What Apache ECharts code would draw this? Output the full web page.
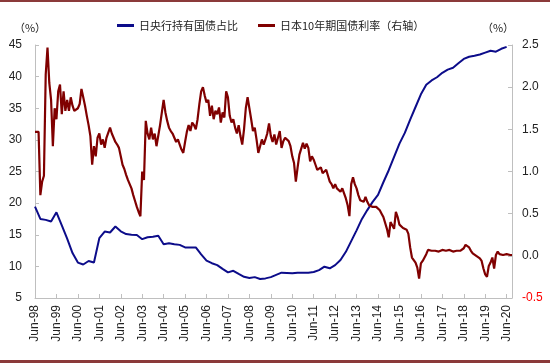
<!DOCTYPE html>
<html>
<head>
<meta charset="utf-8">
<script src="https://cdn.jsdelivr.net/npm/echarts@6/dist/echarts.min.js"></script>
<style>html,body{margin:0;padding:0;background:#fff;}#c{width:550px;height:363px;}</style>
</head>
<body>
<div id="c"></div>
<script>
// Monthly category axis: Jun-98 ... Sep-20
const monthNames = ["Jan","Feb","Mar","Apr","May","Jun","Jul","Aug","Sep","Oct","Nov","Dec"];
const startYear = 1998, startMonth = 5, monthCount = 268;

// BOJ share of JGB holdings (%), quarterly Jun-98 ... Jun-20 (left axis)
const bojShareQuarterly = [
  19.45, 17.5, 17.35, 17.1, 18.55, 16.5, 14.4, 12.1, 10.6, 10.3, 10.85, 10.6,
  14.45, 15.5, 15.35, 16.3, 15.55, 15.1, 15.0, 14.95, 14.3, 14.6, 14.7, 14.85,
  13.5, 13.65, 13.5, 13.4, 13.0, 13.0, 13.0, 11.9, 10.9, 10.5, 10.2, 9.6,
  9.05, 9.3, 8.8, 8.35, 8.15, 8.3, 8.0, 8.1, 8.3, 8.65, 9.0, 8.95,
  8.9, 9.0, 9.0, 9.0, 9.1, 9.4, 9.95, 9.7, 10.2, 11.0, 12.3, 14.0,
  15.7, 17.5, 18.9, 20.2, 21.3, 23.3, 25.2, 27.3, 29.4, 31.1, 33.2, 35.2,
  37.2, 38.7, 39.4, 39.9, 40.6, 41.1, 41.4, 42.1, 42.8, 43.15, 43.3, 43.5,
  43.8, 44.1, 43.95, 44.4, 44.7
];

// Japan 10Y JGB yield (%), monthly Jun-98 ... Sep-20 (right axis)
const jgb10y = [
  1.47, 1.47, 1.47, 0.72, 0.88, 0.95, 2.15, 2.47, 2.05, 1.85, 1.30, 1.75,
  1.62, 1.95, 2.03, 1.68, 1.95, 1.72, 1.85, 1.72, 1.88, 1.78, 1.72, 1.70,
  1.75, 1.80, 1.98, 1.88, 1.78, 1.66, 1.55, 1.42, 1.08, 1.30, 1.18, 1.40,
  1.45, 1.32, 1.38, 1.28, 1.40, 1.40, 1.52, 1.45, 1.40, 1.35, 1.32, 1.28,
  1.18, 1.08, 1.03, 0.96, 0.90, 0.85, 0.80, 0.72, 0.65, 0.58, 0.52, 0.47,
  1.00, 0.90, 1.60, 1.45, 1.38, 1.52, 1.38, 1.45, 1.30, 1.32, 1.55, 1.55,
  1.85, 1.70, 1.60, 1.52, 1.48, 1.45, 1.40, 1.35, 1.38, 1.32, 1.26, 1.22,
  1.35, 1.47, 1.55, 1.48, 1.58, 1.55, 1.50, 1.62, 1.80, 1.95, 2.00, 1.90,
  1.82, 1.85, 1.66, 1.78, 1.62, 1.72, 1.68, 1.76, 1.58, 1.70, 1.64, 1.95,
  1.88, 1.66, 1.58, 1.62, 1.52, 1.45, 1.55, 1.42, 1.32, 1.50, 1.75, 1.88,
  1.75, 1.62, 1.48, 1.52, 1.38, 1.22, 1.30, 1.38, 1.32, 1.38, 1.45, 1.57,
  1.42, 1.35, 1.44, 1.32, 1.40, 1.48, 1.28, 1.36, 1.40, 1.42, 1.36, 1.30,
  1.18, 1.10, 0.88, 1.05, 1.20, 1.22, 1.34, 1.27, 1.33, 1.28, 1.12, 1.18,
  1.14, 1.08, 1.02, 1.00, 1.05, 0.98, 1.00, 1.02, 0.95, 0.88, 0.85, 0.80,
  0.85, 0.80, 0.82, 0.76, 0.80, 0.74, 0.68, 0.60, 0.47, 0.85, 0.93, 0.85,
  0.80, 0.72, 0.66, 0.68, 0.64, 0.70, 0.64, 0.60, 0.60, 0.58, 0.58, 0.58,
  0.56, 0.54, 0.50, 0.46, 0.48, 0.32, 0.22, 0.40, 0.42, 0.32, 0.52, 0.46,
  0.37, 0.35, 0.33, 0.34, 0.31, 0.26, 0.10, -0.02, -0.05, -0.08, -0.14, -0.27,
  -0.09, -0.06, -0.04, 0.02, 0.07, 0.09, 0.06, 0.08, 0.06, 0.07, 0.05, 0.04,
  0.07, 0.05, 0.06, 0.05, 0.07, 0.06, 0.05, 0.07, 0.06, 0.04, 0.06, 0.07,
  0.09, 0.13, 0.14, 0.10, 0.06, 0.03, 0.02, 0.00, 0.01, -0.03, -0.06, -0.15,
  -0.22, -0.25, -0.12, -0.08, -0.02, -0.15, 0.01, 0.05, 0.02, 0.03, 0.01, 0.03,
  0.02, 0.02, 0.01, 0.01
];

const seriesNames = ["日央行持有国债占比", "日本10年期国债利率（右轴）"];

const categories = [];
for (let i = 0; i < monthCount; i++) {
  const mi = startMonth + i;
  const y = startYear + Math.floor(mi / 12);
  categories.push(monthNames[mi % 12] + "-" + String(y % 100).padStart(2, "0"));
}
const bojMonthly = categories.map(() => null);
bojShareQuarterly.forEach((v, i) => { bojMonthly[i * 3] = v; });

const chart = echarts.init(document.getElementById("c"), null, {renderer: "canvas"});
const axisColor = "#bfbfbf";
const labelFont = {fontFamily: "Liberation Sans, Arial, sans-serif", fontSize: 12, color: "#222"};
chart.setOption({
  animation: false,
  backgroundColor: "#fff",
  graphic: [
    {type: "rect", left: 0, top: 0, shape: {width: 550, height: 2}, style: {fill: "#8b3a3a"}},
    {type: "rect", left: 0, top: 360, shape: {width: 550, height: 3}, style: {fill: "#8b3a3a"}}
  ],
  legend: {
    left: 112, top: 15,
    itemWidth: 17, itemHeight: 3, itemGap: 20,
    icon: "rect",
    textStyle: {fontFamily: "Noto Sans CJK SC, sans-serif", fontSize: 11, color: "#222"},
    data: seriesNames
  },
  grid: {left: 35, right: 38, top: 45, bottom: 65},
  xAxis: {
    type: "category",
    data: categories,
    boundaryGap: false,
    axisLine: {onZero: false, lineStyle: {color: axisColor}},
    axisTick: {inside: true, interval: 11, length: 4, lineStyle: {color: axisColor}},
    axisLabel: Object.assign({interval: 11, rotate: 90, margin: 7}, labelFont),
    splitLine: {show: false}
  },
  yAxis: [
    {
      type: "value", min: 5, max: 45, interval: 5,
      name: "（%）", nameGap: 12,
      nameTextStyle: {fontFamily: "Noto Sans CJK SC, sans-serif", fontSize: 11, color: "#222", padding: [0, 10, 0, 0]},
      axisLine: {show: true, lineStyle: {color: axisColor}},
      axisTick: {show: true, inside: true, length: 4, lineStyle: {color: axisColor}},
      axisLabel: Object.assign({margin: 13}, labelFont),
      splitLine: {show: false}
    },
    {
      type: "value", min: -0.5, max: 2.5, interval: 0.5,
      name: "（%）", nameGap: 12,
      nameTextStyle: {fontFamily: "Noto Sans CJK SC, sans-serif", fontSize: 11, color: "#222", padding: [0, 28, 0, 0]},
      axisLine: {show: true, lineStyle: {color: axisColor}},
      axisTick: {show: true, inside: true, length: 4, lineStyle: {color: axisColor}},
      axisLabel: Object.assign({}, labelFont, {
        margin: 10,
        formatter: v => v.toFixed(1),
        color: v => (Number(v) < 0 ? "#ff0000" : "#222")
      }),
      splitLine: {show: false}
    }
  ],
  series: [
    {
      name: seriesNames[0], type: "line", yAxisIndex: 0,
      data: bojMonthly, connectNulls: true, symbol: "none",
      lineStyle: {color: "#0c0c8a", width: 2}, itemStyle: {color: "#0c0c8a"}
    },
    {
      name: seriesNames[1], type: "line", yAxisIndex: 1,
      data: jgb10y, symbol: "none",
      lineStyle: {color: "#800000", width: 2.2}, itemStyle: {color: "#800000"}
    }
  ]
});
</script>
</body>
</html>
